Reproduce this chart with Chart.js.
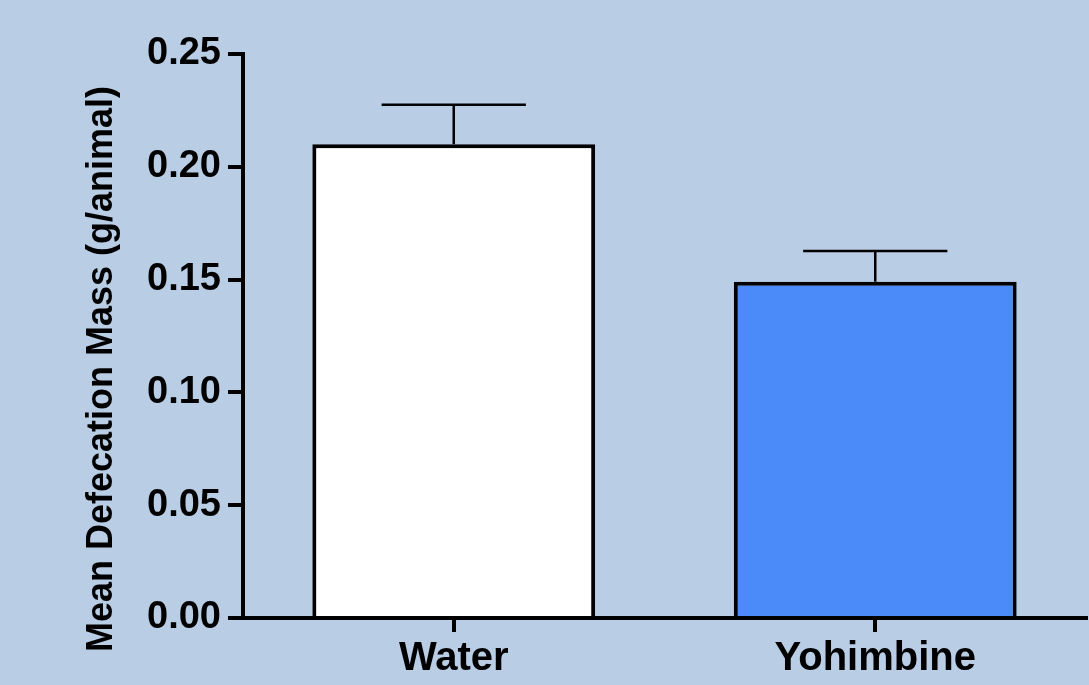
<!DOCTYPE html>
<html>
<head>
<meta charset="utf-8">
<script src="https://cdn.jsdelivr.net/npm/chart.js@4.4.1/dist/chart.umd.min.js"></script>
<style>
  html, body { margin: 0; padding: 0; background: #b9cde5; }
  #wrap { width: 1089px; height: 685px; position: relative; }
</style>
</head>
<body>
<div id="wrap"><canvas id="c"></canvas></div>
<script>
// Groups and measured values (mean ± SEM)
const categories = ['Water', 'Yohimbine'];
const means = [0.21, 0.149];
const sem = [0.0175, 0.0137];
const barColors = ['#ffffff', '#4a8af9'];
const yTicks = [0, 0.05, 0.10, 0.15, 0.20, 0.25];
const yTickLabels = ['0.00', '0.05', '0.10', '0.15', '0.20', '0.25'];
const yTitle = 'Mean Defecation Mass (g/animal)';

const FONT = '"Liberation Sans", Arial, Helvetica, sans-serif';

// Error bars: vertical stem from bar top to a cap at mean + SEM
const errorBars = {
  id: 'errorBars',
  afterDatasetsDraw(chart) {
    const meta = chart.getDatasetMeta(0);
    const y = chart.scales.y;
    const ctx = chart.ctx;
    ctx.save();
    ctx.strokeStyle = '#000';
    ctx.lineWidth = 2.5;
    meta.data.forEach((bar, i) => {
      const top = y.getPixelForValue(means[i] + sem[i]);
      const base = y.getPixelForValue(means[i]);
      const half = bar.width * 0.255;
      ctx.beginPath();
      ctx.moveTo(bar.x, base);
      ctx.lineTo(bar.x, top);
      ctx.moveTo(bar.x - half, top);
      ctx.lineTo(bar.x + half, top);
      ctx.stroke();
    });
    ctx.restore();
  }
};

// Rotated y-axis title
const yAxisTitle = {
  id: 'yAxisTitle',
  afterDraw(chart) {
    const ctx = chart.ctx;
    const area = chart.chartArea;
    ctx.save();
    ctx.translate(area.left - 141, area.bottom - 249);
    ctx.rotate(-Math.PI / 2);
    ctx.font = 'bold 36px ' + FONT;
    ctx.fillStyle = '#000';
    ctx.textAlign = 'center';
    ctx.textBaseline = 'middle';
    ctx.fillText(yTitle, 0, 0);
    ctx.restore();
  }
};

new Chart(document.getElementById('c'), {
  type: 'bar',
  data: {
    labels: categories,
    datasets: [{
      data: means,
      backgroundColor: barColors,
      borderColor: '#000',
      borderWidth: 4,
      borderSkipped: 'start',
      barPercentage: 0.671,
      categoryPercentage: 1
    }]
  },
  options: {
    responsive: true,
    maintainAspectRatio: false,
    animation: false,
    layout: { padding: { left: 0, right: 3, top: 54, bottom: 0 } },
    plugins: {
      legend: { display: false },
      tooltip: { enabled: false }
    },
    scales: {
      x: {
        z: 1,
        offset: true,
        grid: {
          offset: false,
          drawOnChartArea: false,
          drawTicks: true,
          tickLength: 14,
          lineWidth: 4,
          color: '#000'
        },
        border: { display: true, color: '#000', width: 4 },
        ticks: {
          color: '#000',
          padding: 3,
          font: { family: FONT, size: 40, weight: 'bold' },
          maxRotation: 0
        },
        afterFit(scale) { scale.height = 67; }
      },
      y: {
        z: 1,
        min: 0,
        max: 0.25,
        grid: {
          drawOnChartArea: false,
          drawTicks: true,
          tickLength: 15,
          lineWidth: 4,
          color: '#000'
        },
        border: { display: true, color: '#000', width: 4 },
        afterBuildTicks(scale) {
          scale.ticks = yTicks.map(v => ({ value: v }));
        },
        ticks: {
          color: '#000',
          padding: 7,
          font: { family: FONT, size: 38, weight: 'bold' },
          callback: (v) => yTickLabels[yTicks.findIndex(t => Math.abs(t - v) < 1e-9)]
        },
        afterFit(scale) { scale.width = 243; }
      }
    }
  },
  plugins: [errorBars, yAxisTitle]
});
</script>
</body>
</html>
